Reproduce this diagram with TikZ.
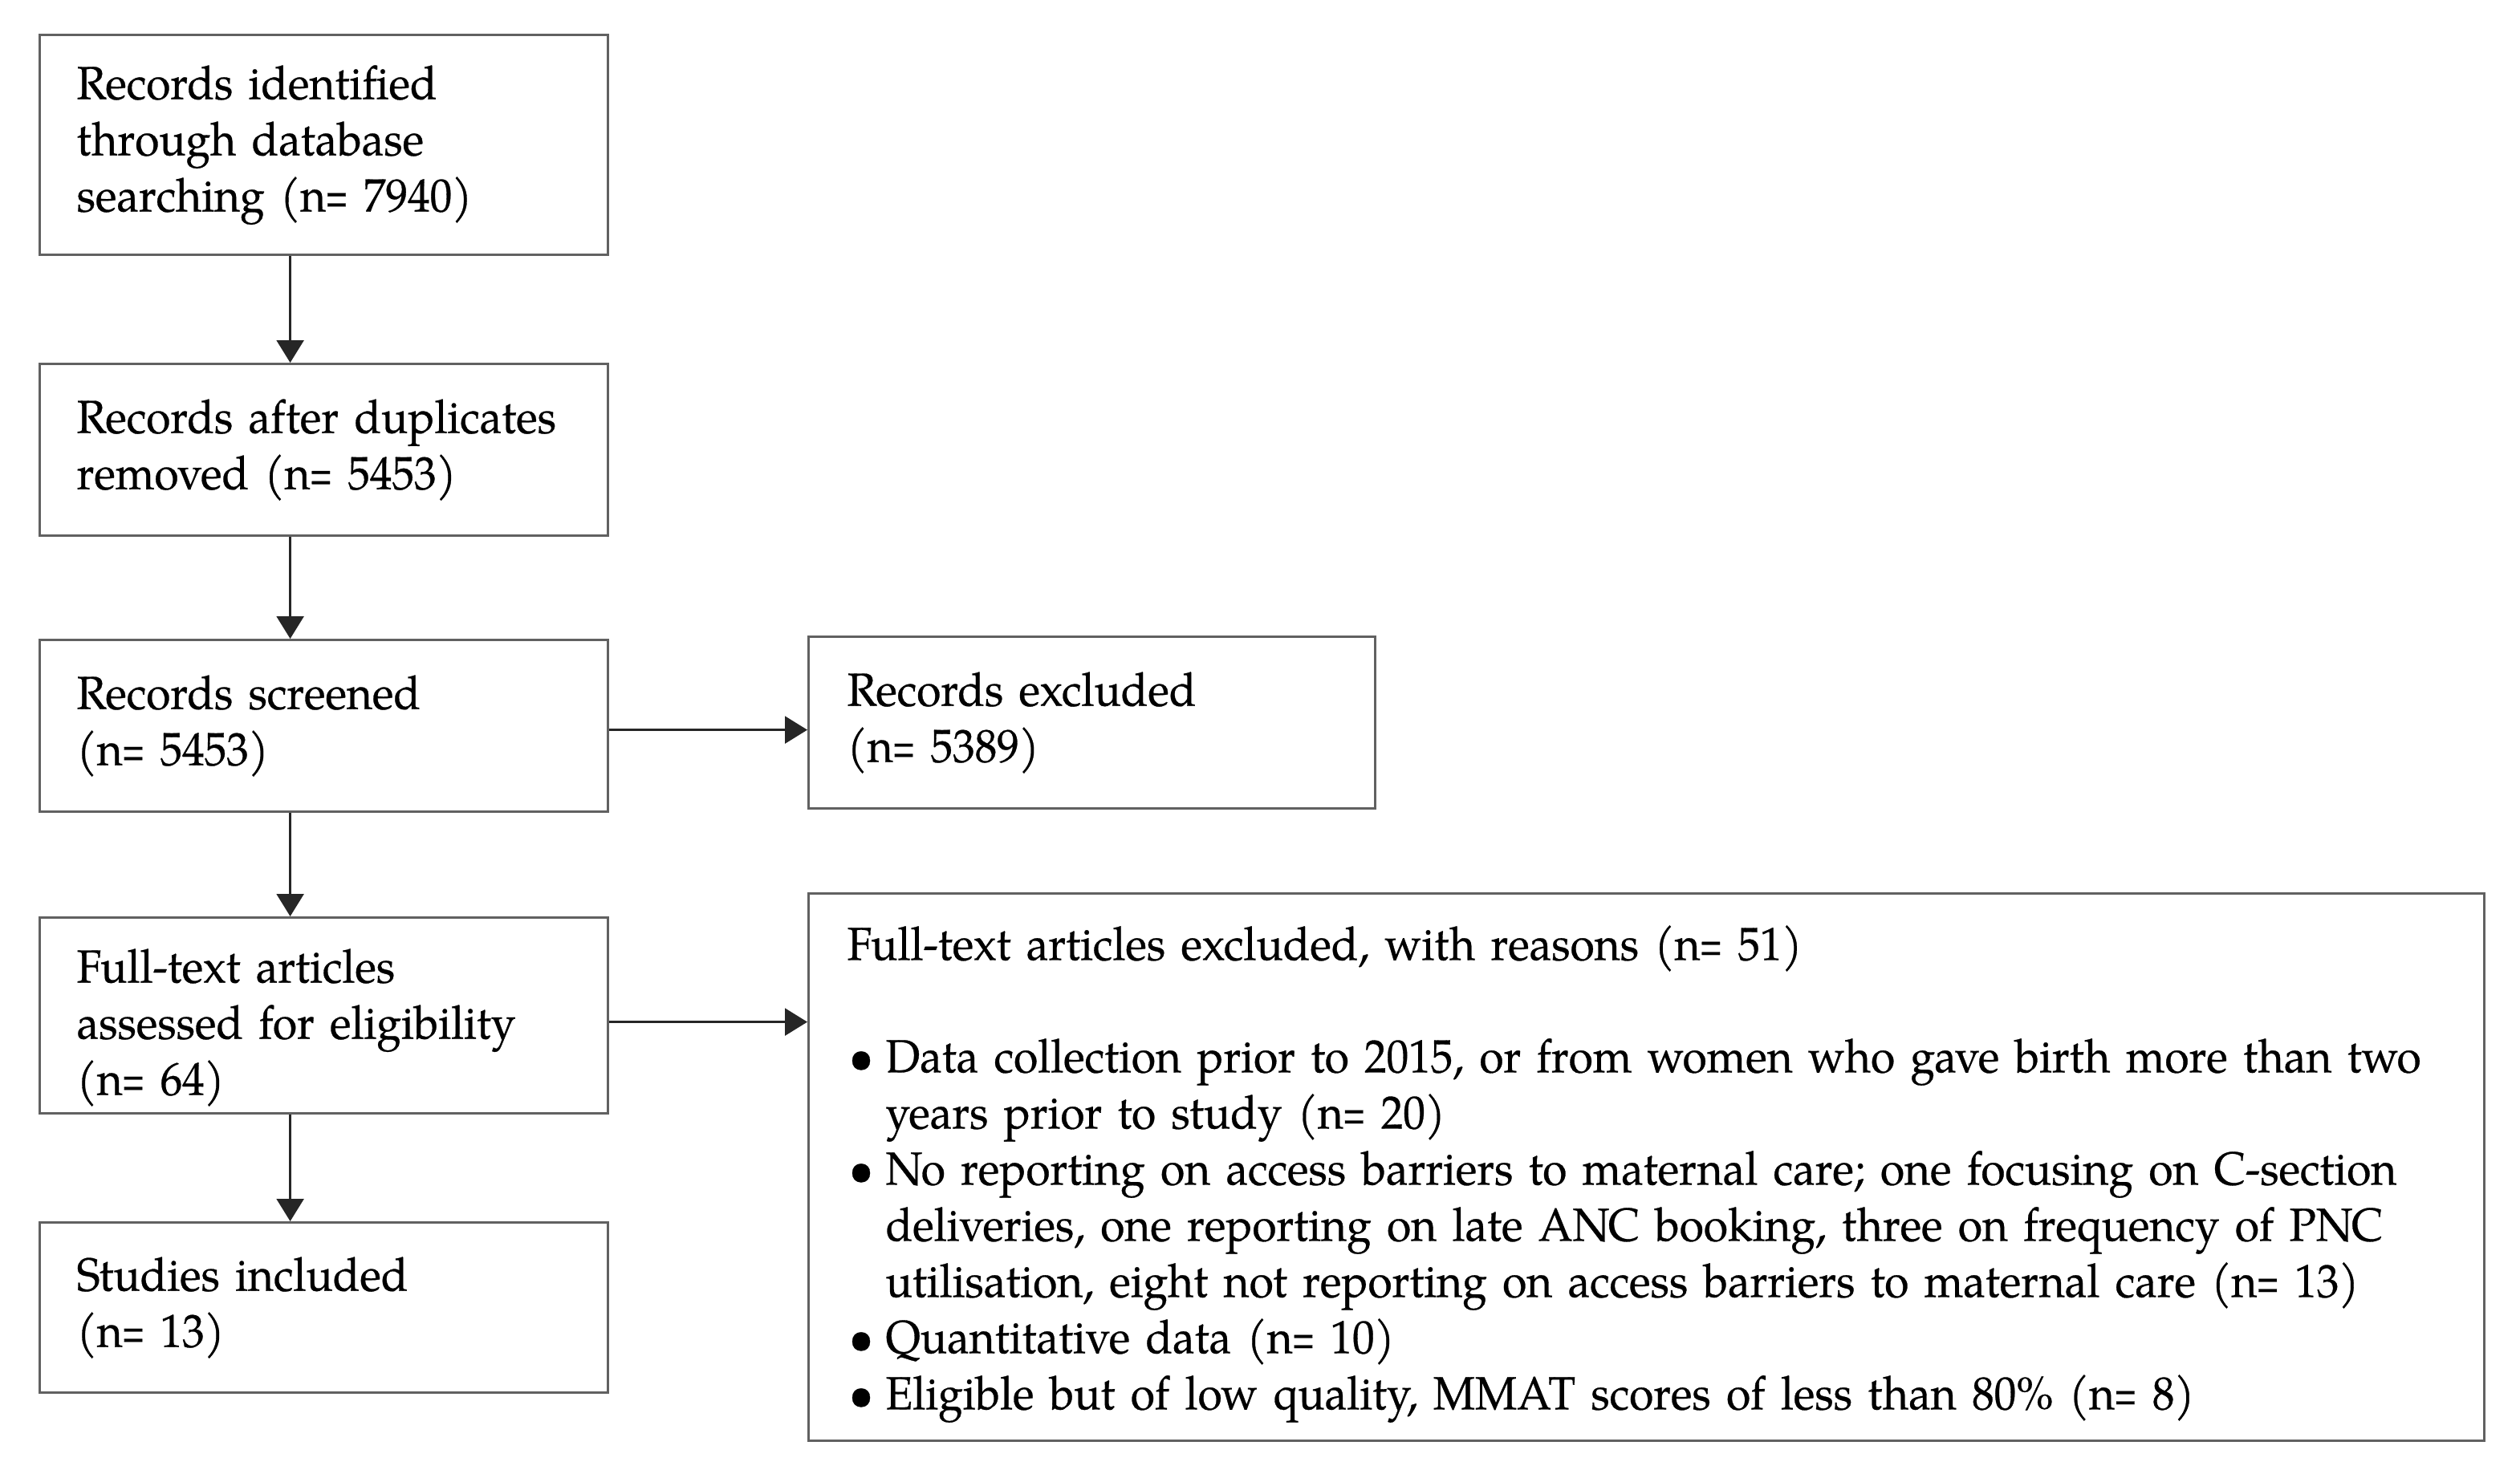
\documentclass[tikz,border=0pt]{standalone}
\usepackage{fontspec}
\usepackage{graphicx}
\setmainfont[FakeStretch=0.95,FakeBold=0.5]{TeX Gyre Pagella}
\usetikzlibrary{arrows.meta,calc}
\definecolor{boxgray}{gray}{0.38}
\newcommand{\mybul}{\hspace*{1pt}\makebox[23pt][l]{\textbullet}}
\newcommand{\myind}{\hspace*{24pt}}
\newcommand{\myeq}{\kern-0.5pt\scalebox{0.68}[1]{=}}
\newcommand{\topstrut}[1]{\rule{0pt}{#1}}
\begin{document}
\hyphenpenalty=10000
\exhyphenpenalty=10000
\begin{tikzpicture}[x=1pt,y=-1pt,
  box/.style={draw=boxgray, line width=1.6pt, inner xsep=23pt, inner ysep=0pt,
    align=left, anchor=north west,
    font=\fontsize{29}{35}\selectfont},
  arr/.style={-{Triangle[length=14pt,width=17pt]}, line width=1.2pt, draw=black!85}]
\useasboundingbox (0,0) rectangle (1570,913);
\node[box, text width=308pt, minimum height=137pt] (b1) at (24,21)
  {Records identified\\through database\\searching (n\myeq{} 7940)};
\node[box, text width=308pt, minimum height=107pt] (b2) at (24,226)
  {Records after duplicates\\removed (n\myeq{} 5453)};
\node[box, text width=308pt, minimum height=107pt] (b3) at (24,398)
  {Records screened\\(n\myeq{} 5453)};
\node[box, text width=308pt, minimum height=122pt] (b4) at (24,571)
  {\topstrut{36pt}Full-text articles\\assessed for eligibility\\(n\myeq{} 64)};
\node[box, text width=308pt, minimum height=106pt] (b5) at (24,761)
  {Studies included\\(n\myeq{} 13)};
\node[box, inner xsep=24pt, text width=305pt, minimum height=107pt] (ex) at (503,396)
  {Records excluded\\(n\myeq{} 5389)};
\node[box, inner xsep=24pt, text width=996pt, minimum height=341pt] (big) at (503,556)
  {\topstrut{30pt}Full-text articles excluded, with reasons (n\myeq{} 51)\\[35pt]
   \mybul Data collection prior to 2015, or from women who gave birth more than two\\
   \myind years prior to study (n\myeq{} 20)\\
   \mybul No reporting on access barriers to maternal care; one focusing on C-section\\
   \myind deliveries, one reporting on late ANC booking, three on frequency of PNC\\
   \myind utilisation, eight not reporting on access barriers to maternal care (n\myeq{} 13)\\
   \mybul Quantitative data (n\myeq{} 10)\\
   \mybul Eligible but of low quality, MMAT scores of less than 80\% (n\myeq{} 8)};
\draw[arr] ([xshift=-21pt]b1.south) -- ([xshift=-21pt]b1.south |- b2.north);
\draw[arr] ([xshift=-21pt]b2.south) -- ([xshift=-21pt]b2.south |- b3.north);
\draw[arr] ([xshift=-21pt]b3.south) -- ([xshift=-21pt]b3.south |- b4.north);
\draw[arr] ([xshift=-21pt]b4.south) -- ([xshift=-21pt]b4.south |- b5.north);
\draw[arr] ([yshift=-2.5pt]b3.east) -- ([yshift=-2.5pt]b3.east -| ex.west);
\draw[arr] ([yshift=-4pt]b4.east) -- ([yshift=-4pt]b4.east -| big.west);
\end{tikzpicture}
\end{document}
